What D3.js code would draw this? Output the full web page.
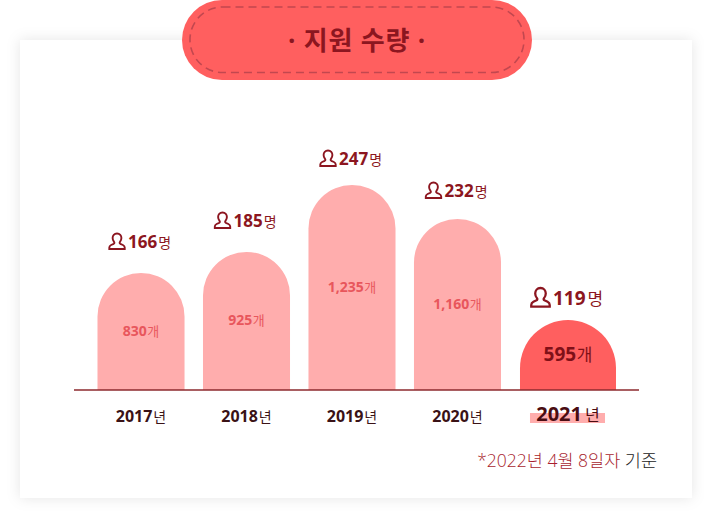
<!DOCTYPE html>
<html>
<head>
<meta charset="utf-8">
<script src="https://cdn.jsdelivr.net/npm/d3@7"></script>
<style>
html, body { margin: 0; padding: 0; background: #fff; }
svg { display: block; }
text { font-family: "Open Sans", "Noto Sans CJK KR", sans-serif; }
</style>
</head>
<body>
<div id="chart"></div>
<script>
const years = ["2017", "2018", "2019", "2020", "2021"];
const counts = [830, 925, 1235, 1160, 595];
const people = [166, 185, 247, 232, 119];
const highlightYear = "2021";

const width = 704, height = 520;
const baseY = 390;

const svg = d3.select("#chart").append("svg")
    .attr("width", width)
    .attr("height", height);

const defs = svg.append("defs");
const shadow = defs.append("filter").attr("id", "cardShadow")
    .attr("x", "-5%").attr("y", "-5%").attr("width", "110%").attr("height", "110%");
shadow.append("feDropShadow")
    .attr("dx", 0).attr("dy", 0).attr("stdDeviation", 7)
    .attr("flood-color", "#000").attr("flood-opacity", 0.1);

// card
svg.append("rect")
    .attr("x", 20).attr("y", 40).attr("width", 672).attr("height", 458)
    .attr("fill", "#fff")
    .attr("filter", "url(#cardShadow)");

// title pill
svg.append("rect")
    .attr("x", 182).attr("y", 0).attr("width", 350).attr("height", 80).attr("rx", 40)
    .attr("fill", "#ff5f5f");
svg.append("rect")
    .attr("x", 190).attr("y", 7).attr("width", 334).attr("height", 65.5).attr("rx", 32.5)
    .attr("fill", "none")
    .attr("stroke", "#c2474f").attr("stroke-width", 1.6).attr("stroke-dasharray", "8 5");
svg.append("text")
    .attr("x", 357).attr("y", 50)
    .attr("text-anchor", "middle")
    .attr("font-size", 26).attr("font-weight", 700).attr("fill", "#8c1620")
    .attr("letter-spacing", 0.8)
    .text("· 지원 수량 ·");

// the original is not drawn to proportion, so these scales have one stop per value
const sorted = d3.sort(counts);
const y = d3.scaleLinear().domain(sorted).range([320, 273, 252, 219, 185]);
const headY = d3.scaleLinear().domain(sorted).range([305, 248, 227, 197, 165]);
const valueY = d3.scaleLinear().domain(sorted).range([361, 336, 325, 309, 292]);

const x = d3.scaleBand()
    .domain(years)
    .range([88, 616])
    .paddingInner(0.175)
    .paddingOuter(0.09);

const rows = years.map((year, i) => ({
    year,
    count: counts[i],
    people: people[i],
    hot: year === highlightYear
}));

const barW = d => d.hot ? 96 : x.bandwidth();
const cx = d => x(d.year) + x.bandwidth() / 2 + (d.hot ? 5 : 0);

function barPath(d) {
    const r = barW(d) / 2, c = cx(d), top = y(d.count);
    const p = d3.path();
    p.moveTo(c - r, baseY);
    p.lineTo(c - r, top + r);
    p.arc(c, top + r, r, Math.PI, 0);
    p.lineTo(c + r, baseY);
    p.closePath();
    return p.toString();
}

svg.append("g").selectAll("path")
    .data(rows)
    .join("path")
    .attr("d", barPath)
    .attr("fill", d => d.hot ? "#ff5f5f" : "#ffadad");

// baseline
svg.append("line")
    .attr("x1", 74).attr("x2", 639)
    .attr("y1", baseY).attr("y2", baseY)
    .attr("stroke", "#8c2a2e").attr("stroke-width", 1.4);

// value inside the bar
const valueText = svg.append("g").selectAll("text")
    .data(rows)
    .join("text")
    .attr("x", cx)
    .attr("y", d => valueY(d.count))
    .attr("text-anchor", "middle")
    .attr("fill", d => d.hot ? "#7f1018" : "#e8565c");
valueText.append("tspan")
    .attr("font-size", d => d.hot ? 19 : 14)
    .attr("font-weight", 700)
    .text(d => d3.format(",")(d.count));
valueText.append("tspan")
    .attr("dx", 0.5)
    .attr("font-size", d => d.hot ? 17 : 13)
    .text("개");

// person icon + head count
const head = svg.append("g").selectAll("g")
    .data(rows)
    .join("g")
    .attr("transform", d => `translate(${cx(d)},${headY(d.count)})`);

head.append("path")
    .attr("d", "M0 -7.5 c-2.8 0 -4.4 2.2 -4.4 4.6 c0 1.6 .7 3 1.5 3.9 c.5 .6 .3 1.4 -.4 1.8 l-2.6 1.2 c-1.2 .6 -1.8 1.5 -1.8 2.6 v1.4 h15.4 v-1.4 c0 -1.1 -.6 -2 -1.8 -2.6 l-2.6 -1.2 c-.7 -.4 -.9 -1.2 -.4 -1.8 c.8 -.9 1.5 -2.3 1.5 -3.9 c0 -2.4 -1.6 -4.6 -4.4 -4.6 z")
    .attr("fill", "none")
    .attr("stroke", "#8c1620")
    .attr("stroke-width", 1.9)
    .attr("transform", d => d.hot ? "translate(-27.5,-8) scale(1.2)" : "translate(-24,-7)");

const headText = head.append("text")
    .attr("x", d => d.hot ? -15 : -13)
    .attr("fill", "#8c1620");
headText.append("tspan")
    .attr("font-size", d => d.hot ? 19 : 17)
    .attr("font-weight", 700)
    .text(d => d.people);
headText.append("tspan")
    .attr("dx", d => d.hot ? 2 : 1)
    .attr("font-size", d => d.hot ? 17 : 14)
    .text("명");

// year labels
const labels = svg.append("g");
labels.selectAll("rect")
    .data(rows.filter(d => d.hot))
    .join("rect")
    .attr("x", d => cx(d) - 38)
    .attr("y", 413)
    .attr("width", 75)
    .attr("height", 10)
    .attr("fill", "#ffadad");

const yearText = labels.selectAll("text")
    .data(rows)
    .join("text")
    .attr("x", cx)
    .attr("y", d => d.hot ? 420.5 : 421.5)
    .attr("text-anchor", "middle")
    .attr("fill", d => d.hot ? "#4a0d12" : "#3a1216");
yearText.append("tspan")
    .attr("font-size", d => d.hot ? 20 : 16)
    .attr("font-weight", 700)
    .text(d => d.year);
yearText.append("tspan")
    .attr("dx", d => d.hot ? 3 : 1)
    .attr("font-size", d => d.hot ? 16 : 14)
    .text("년");

// footnote
const note = svg.append("text")
    .attr("x", 657).attr("y", 467)
    .attr("text-anchor", "end")
    .attr("font-size", 17.5).attr("font-weight", 300);
note.append("tspan").attr("fill", "#a81e2e").text("*2022년 4월 8일자 ");
note.append("tspan").attr("fill", "#222").text("기준");
</script>
</body>
</html>
